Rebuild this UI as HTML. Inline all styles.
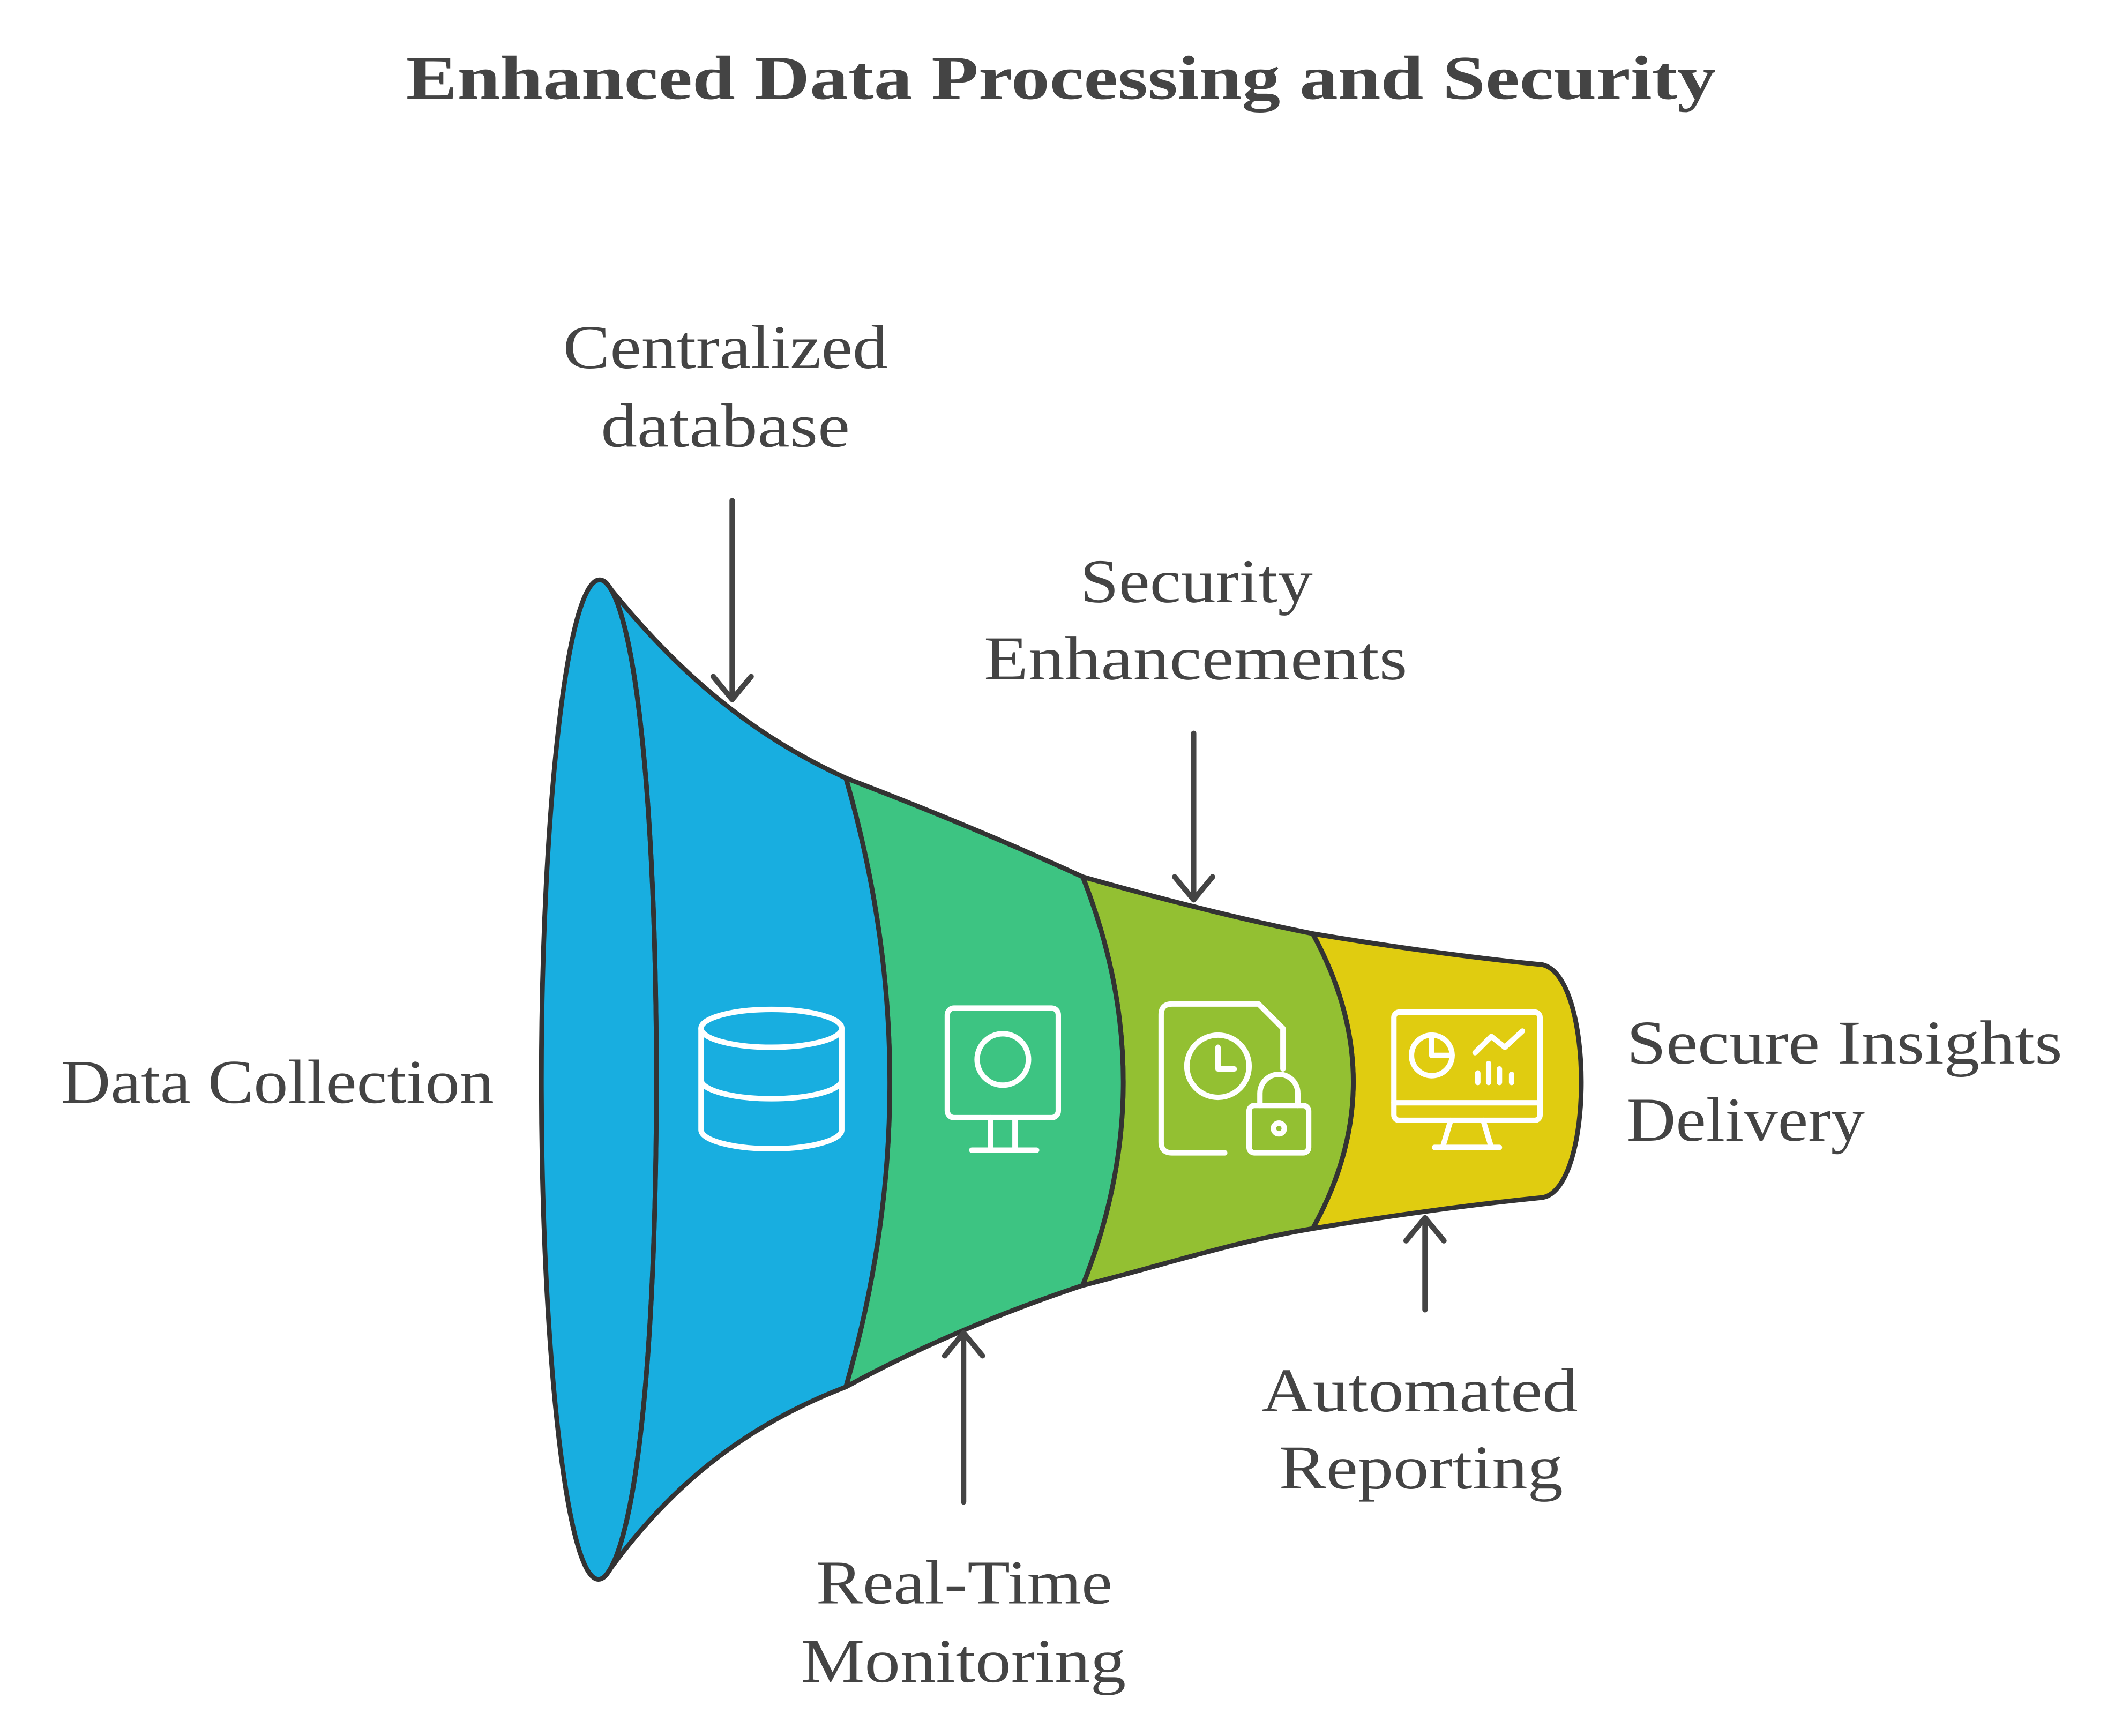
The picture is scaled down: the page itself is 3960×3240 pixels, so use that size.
<!DOCTYPE html>
<html><head><meta charset="utf-8"><style>
html,body{margin:0;padding:0;background:#fff;}
svg{display:block;}
text{font-family:"Liberation Serif",serif;fill:#444;}
</style></head><body>
<svg width="3960" height="3240" viewBox="0 0 1568 1283" xmlns="http://www.w3.org/2000/svg">
<rect width="1568" height="1283" fill="#fff"/>
<text x="300" y="73" font-size="46" font-weight="bold" textLength="968" lengthAdjust="spacingAndGlyphs">Enhanced Data Processing and Security</text>

<g stroke="#333" stroke-width="3.5" stroke-linejoin="round">
<path d="M970,690 C1030,700 1090,708 1140,713 C1178,722 1178,878 1140,885 C1090,890 1030,898 970,908 Q1030,800 970,690 Z" fill="#E0CC10"/>
<path d="M800,648 C860,665 920,680 970,690 Q1030,800 970,908 C910,918 860,935 800,950 Q860,800 800,648 Z" fill="#93C032"/>
<path d="M625,575 C690,600 750,625 800,648 Q860,800 800,950 C740,970 680,995 625,1025 Q690,800 625,575 Z" fill="#3DC482"/>
<path d="M447,430 C510,510 570,550 625,575 Q690,800 625,1025 C560,1050 500,1090 447,1165 Z" fill="#18AEE0"/>
<path d="M447,430 C420,410 400,600 400,798 C400,1000 420,1190 447,1165 C470,1140 485,1000 485,798 C485,600 470,450 447,430 Z" fill="#18AEE0"/>
<path d="M447,430 C470,450 485,600 485,798 C485,1000 470,1140 447,1165" fill="none"/>
</g>

<g fill="none" stroke="#fff" stroke-width="4" stroke-linecap="round" stroke-linejoin="round">
<ellipse cx="570" cy="760" rx="52" ry="14"/>
<path d="M518,760 V835 M622,760 V835 M518,798 A52,14 0 0 0 622,798 M518,835 A52,14 0 0 0 622,835"/>
<rect x="700" y="745" width="82" height="81" rx="5"/>
<circle cx="741" cy="783" r="19"/>
<path d="M732,826 V850 M750,826 V850 M718,850 H766"/>
<path d="M905,852 H866 Q858,852 858,844 V750 Q858,742 866,742 H930 L948,760 V790"/>
<circle cx="900" cy="788" r="23"/>
<path d="M900,774 V790 H912"/>
<rect x="923" y="817" width="44" height="35" rx="4"/>
<path d="M931,817 V808 A14,14 0 0 1 959,808 V817"/>
<circle cx="945" cy="834" r="4"/>
<rect x="1030" y="748" width="108" height="80" rx="4"/>
<path d="M1030,815 H1138 M1072,828 L1066,848 M1096,828 L1102,848 M1060,848 H1108"/>
<circle cx="1058" cy="780" r="15"/>
<path d="M1058,765 V780 H1073"/>
<path d="M1090,778 L1102,766 L1112,774 L1125,762"/>
<path d="M1092,800 V793 M1100,800 V786 M1108,800 V790 M1117,800 V794"/>
</g>

<g fill="none" stroke="#444" stroke-width="4" stroke-linecap="round" stroke-linejoin="round">
<path d="M541,370 V516 M527,500 L541,517 L555,500"/>
<path d="M882,542 V664 M868,648 L882,665 L896,648"/>
<path d="M712,1110 V987 M698,1002 L712,985 L726,1002"/>
<path d="M1053,968 V902 M1039,917 L1053,900 L1067,917"/>
</g>

<g font-size="46" lengthAdjust="spacingAndGlyphs">
<text x="416" y="272" textLength="240" lengthAdjust="spacingAndGlyphs">Centralized</text>
<text x="444" y="330" textLength="184" lengthAdjust="spacingAndGlyphs">database</text>
<text x="798" y="445" textLength="172" lengthAdjust="spacingAndGlyphs">Security</text>
<text x="727" y="502" textLength="313" lengthAdjust="spacingAndGlyphs">Enhancements</text>
<text x="45" y="815" textLength="320" lengthAdjust="spacingAndGlyphs">Data Collection</text>
<text x="1202" y="786" textLength="322" lengthAdjust="spacingAndGlyphs">Secure Insights</text>
<text x="1202" y="843" textLength="176" lengthAdjust="spacingAndGlyphs">Delivery</text>
<text x="932" y="1043" textLength="234" lengthAdjust="spacingAndGlyphs">Automated</text>
<text x="945" y="1100" textLength="210" lengthAdjust="spacingAndGlyphs">Reporting</text>
<text x="603" y="1185" textLength="219" lengthAdjust="spacingAndGlyphs">Real-Time</text>
<text x="592" y="1243" textLength="240" lengthAdjust="spacingAndGlyphs">Monitoring</text>
</g>
</svg>
</body></html>
